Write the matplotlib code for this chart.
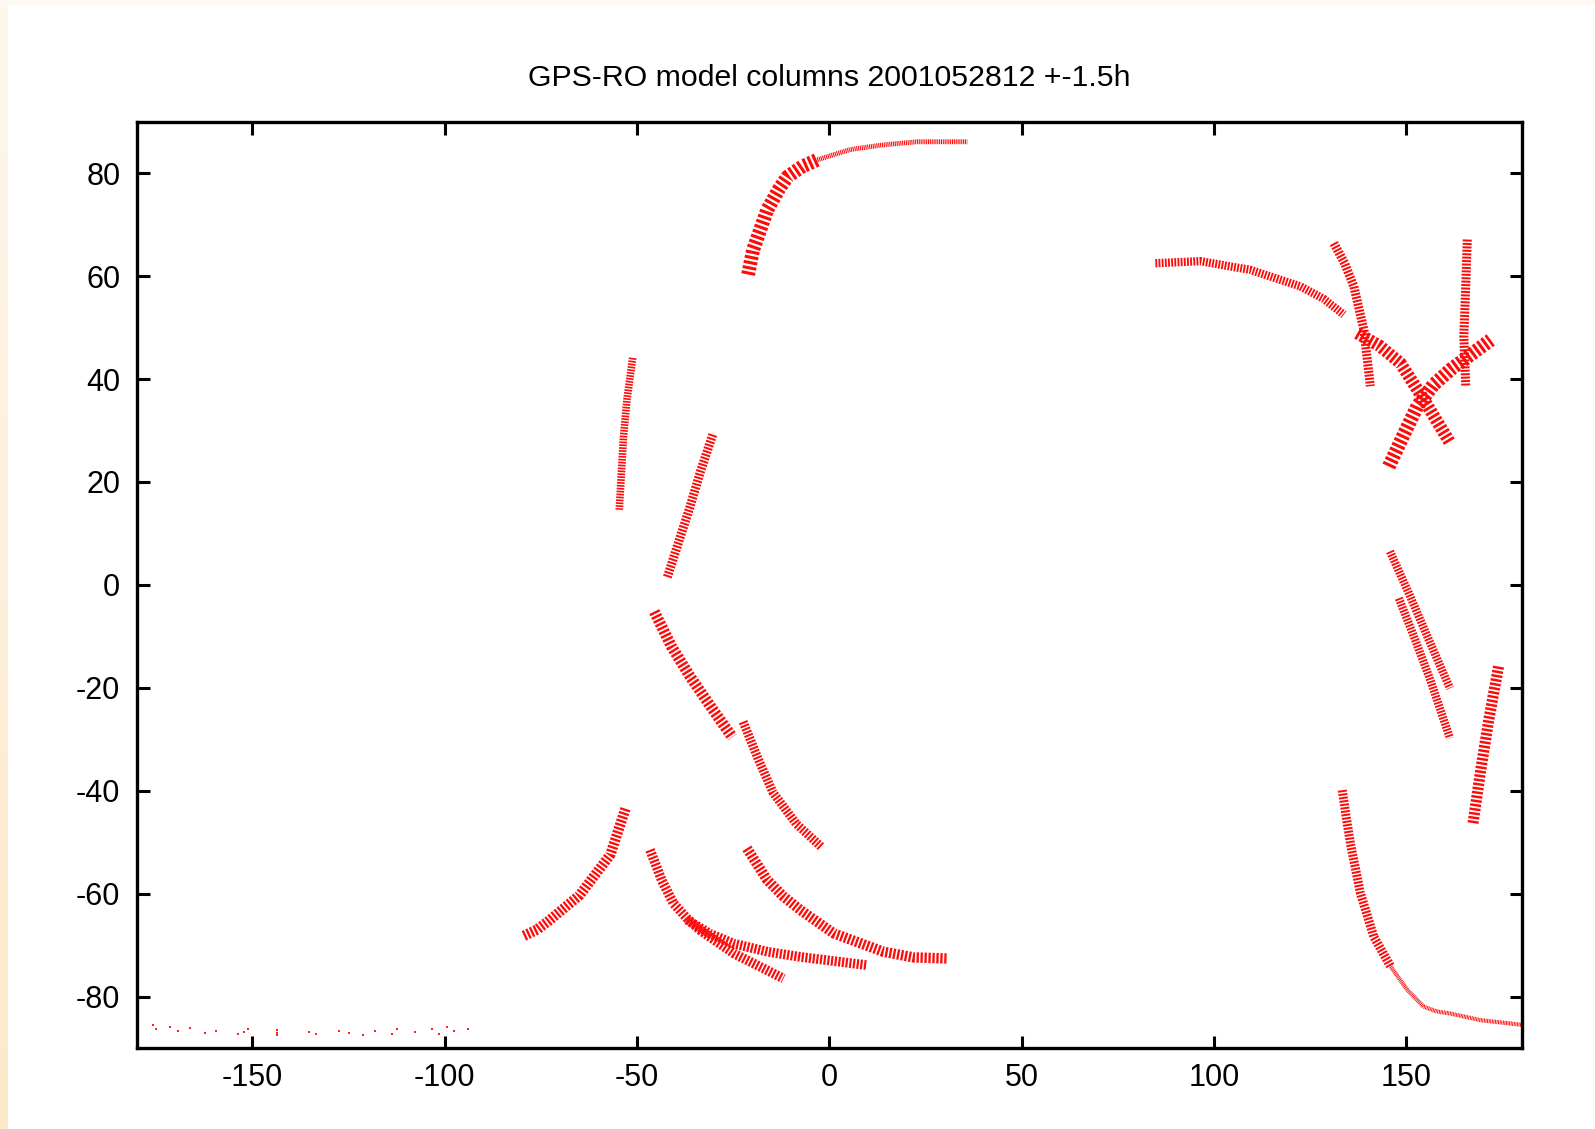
import numpy as np
import matplotlib
matplotlib.use("Agg")
import matplotlib.pyplot as plt

# GPS-RO occultation tracks: (lon, lat) waypoints per track
track_names = ["T1", "T2", "A", "B", "C", "D", "E", "F1", "F2", "G",
               "H", "I", "J", "K", "L", "M", "N", "O", "P1", "P2"]
track_lon = [
    [-21.1, -19.8, -16.1, -13.0, -10.9, -7.0, -3.1],
    [-3.1, 5.5, 14.0, 22.9, 35.9],
    [-51.1, -52.6, -53.5, -54.6],
    [-30.3, -33.5, -36.2, -42.1],
    [-45.5, -41.0, -36.2, -30.5, -25.2],
    [-22.4, -18.5, -14.6, -8.5, -2.1],
    [-79.4, -76.0, -72.8, -64.9, -56.9, -53.0],
    [-46.6, -43.5, -40.5, -37.0, -33.6, -24.9, -11.9],
    [-37.0, -31.0, -24.9, -16.0, -7.5, 9.8],
    [-21.4, -16.2, -12.0, -7.5, 1.1, 14.1, 22.0, 30.6],
    [84.8, 96.5, 109.5, 122.5, 128.5, 133.8],
    [131.2, 134.0, 136.4, 139.0, 140.7],
    [137.3, 143.0, 148.5, 154.6, 161.5],
    [145.5, 149.0, 152.9, 157.0, 161.5, 172.0],
    [165.9, 165.5, 165.0, 165.5],
    [145.8, 151.1, 155.5, 161.4],
    [148.1, 152.0, 156.3, 161.4],
    [167.4, 169.4, 171.5, 174.1],
    [133.4, 134.4, 135.5, 138.1, 141.6, 146.0],
    [146.0, 150.3, 154.6, 158.0, 161.5, 169.4, 176.7, 180.0],
]
track_lat = [
    [60.3, 65.1, 72.9, 77.0, 79.3, 81.3, 82.6],
    [82.6, 84.6, 85.5, 86.1, 86.1],
    [44.1, 36.0, 28.8, 14.6],
    [29.2, 22.0, 15.2, 1.5],
    [-5.2, -12.0, -17.8, -24.0, -29.6],
    [-26.6, -33.8, -40.4, -46.5, -50.9],
    [-68.2, -67.0, -65.2, -60.3, -52.4, -43.5],
    [-51.5, -57.5, -61.9, -64.8, -67.1, -71.6, -76.5],
    [-65.1, -67.8, -69.7, -71.3, -72.3, -73.9],
    [-51.2, -57.3, -60.5, -63.2, -67.7, -71.3, -72.4, -72.6],
    [62.5, 62.9, 61.2, 58.0, 55.6, 52.5],
    [66.4, 62.5, 58.0, 49.6, 38.6],
    [48.9, 46.5, 43.1, 36.0, 27.5],
    [23.0, 28.6, 34.7, 38.8, 41.8, 47.6],
    [67.1, 58.0, 48.3, 38.6],
    [6.5, -2.3, -10.0, -20.1],
    [-2.6, -10.0, -18.5, -29.8],
    [-46.3, -36.0, -26.2, -15.6],
    [-39.9, -45.0, -50.2, -59.9, -68.4, -74.2],
    [-74.2, -78.7, -82.0, -82.9, -83.3, -84.6, -85.2, -85.5],
]
# band width of each track (pt)
track_width = [10, 3.5, 5.5, 6.5, 8, 6.5, 7.5, 7, 7, 7.5,
               6, 6.5, 9, 10, 6.5, 6, 6, 8, 6.5, 3]

# isolated columns near the south pole
polar_lon = [-175.9, -175.1, -171.4, -169.3, -166.1, -162.3, -159.5, -153.8, -152.2,
             -151.1, -143.7, -143.7, -143.7, -135.2, -133.5, -127.6, -124.9, -121.2,
             -118.0, -113.6, -112.3, -107.7, -103.2, -101.6, -99.5, -97.5, -94.0]
polar_lat = [-85.5, -86.4, -85.9, -86.6, -86.2, -87.0, -86.6, -87.3, -86.8,
             -86.4, -86.5, -87.0, -87.5, -86.8, -87.3, -86.6, -87.1, -87.5,
             -86.7, -87.2, -86.4, -86.8, -86.4, -87.2, -85.9, -86.7, -86.3]

xticks = [-150, -100, -50, 0, 50, 100, 150]
yticks = [-80, -60, -40, -20, 0, 20, 40, 60, 80]

plt.rcParams['font.family'] = ['Liberation Sans', 'DejaVu Sans']
plt.rcParams['axes.unicode_minus'] = False

W, H = 1595, 1129
fig = plt.figure(figsize=(W / 100, H / 100), dpi=100)
fig.patch.set_facecolor('white')

# cream page edge on the left and top
edge = fig.add_axes([0, 0, 8 / W, 1])
edge.imshow(np.linspace(0, 1, 100).reshape(-1, 1), aspect='auto',
            cmap=matplotlib.colors.LinearSegmentedColormap.from_list(
                'pg', ['#fef7ec', '#fde8c9']), extent=[0, 1, 0, 1])
edge.axis('off')
top = fig.add_axes([0, 1 - 5 / H, 1, 5 / H])
top.set_facecolor('#fef8f1')
top.set_xticks([]); top.set_yticks([])
for s in top.spines.values():
    s.set_visible(False)

ax = fig.add_axes([137 / W, 1 - 1048 / H, (1521.5 - 137) / W, (1048 - 121.7) / H])
for lon, lat, w in zip(track_lon, track_lat, track_width):
    ax.plot(lon, lat, color='#ff0a0a', lw=w, dashes=(0.22, 0.16),
            solid_capstyle='butt', dash_capstyle='butt', solid_joinstyle='round')
ax.plot(polar_lon, polar_lat, ls='none', marker='s', ms=1.8, mew=0, color='#ff2020')

ax.set_xlim(-180, 180)
ax.set_ylim(-90, 90)
ax.set_xticks(xticks)
ax.set_yticks(yticks)
ax.tick_params(direction='in', length=9, width=2.2, top=True, right=True,
               labelsize=22, colors='black')
ax.tick_params(axis='x', pad=11)
ax.tick_params(axis='y', pad=12)
for s in ax.spines.values():
    s.set_linewidth(2.4)

fig.text(829.5 / W, 1 - 78 / H, "GPS-RO model columns 2001052812 +-1.5h",
         ha='center', va='center', fontsize=21.8)

fig.savefig('out.png', dpi=100)
